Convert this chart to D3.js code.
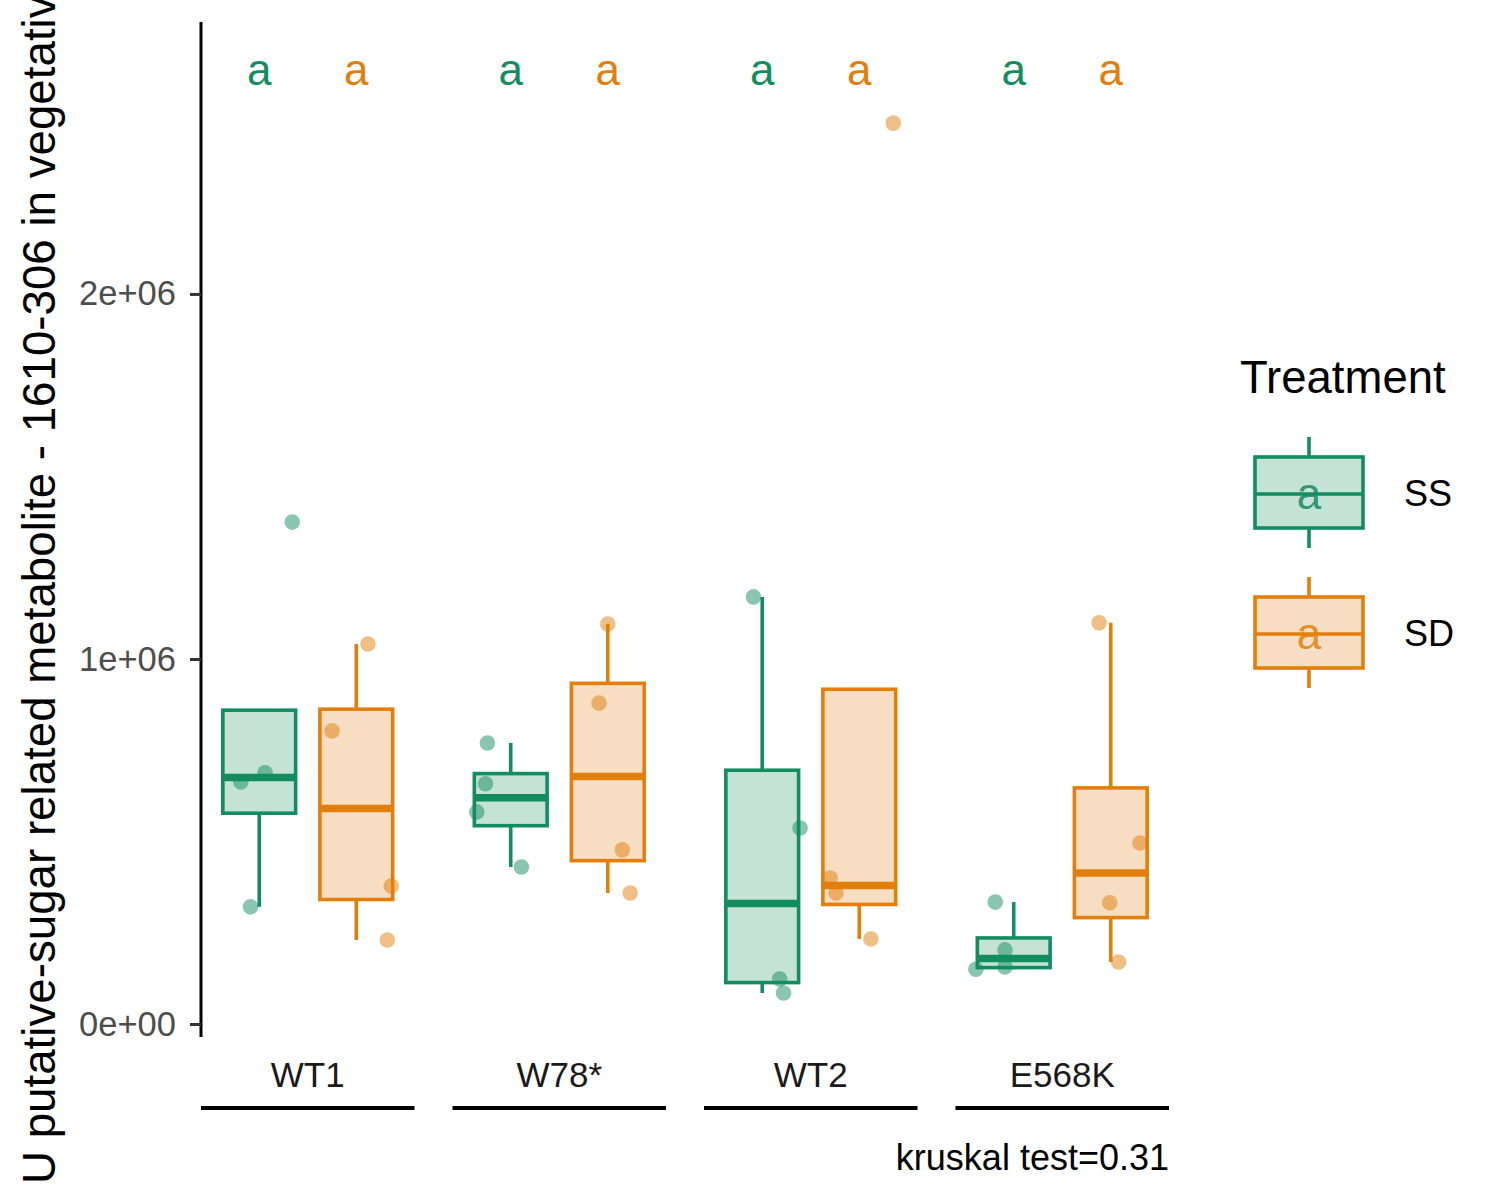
<!DOCTYPE html>
<html>
<head>
<meta charset="utf-8">
<script src="https://cdn.jsdelivr.net/npm/d3@7"></script>
<style>
    body { margin: 0; background: #fff; }
    svg { display: block; }
    text { font-family: "Liberation Sans", Arial, sans-serif; }
</style>
</head>
<body>
<svg id="chart" width="1500" height="1200"></svg>
<script>
// data
const genotypes = ["WT1", "W78*", "WT2", "E568K"]
const treatments = ["SS", "SD"]
const treatmentColors = ["#138C62", "#E27F0B"]
const treatmentFills = ["#C5E2D7", "#F7DDC1"]

// four samples per genotype x treatment
const ssValues = [
    [1375000, 663000, 688000, 321000],
    [770000, 658000, 581000, 430000],
    [1170000, 537000, 123000, 85000],
    [334000, 203000, 150000, 156000]
]
const sdValues = [
    [1041000, 803000, 378000, 230000],
    [1096000, 879000, 477000, 359000],
    [2468000, 400000, 359000, 233000],
    [1099000, 496000, 332000, 170000]
]
// horizontal jitter of each sample (in x units)
const ssJitter = [
    [0.34, -0.19, 0.06, -0.09],
    [-0.24, -0.26, -0.35, 0.11],
    [-0.09, 0.39, 0.18, 0.22],
    [-0.19, -0.09, -0.39, -0.09]
]
const sdJitter = [
    [0.12, -0.25, 0.36, 0.32],
    [0, -0.09, 0.15, 0.23],
    [0.35, -0.30, -0.24, 0.12],
    [-0.12, 0.30, -0.01, 0.08]
]
// compact letter display
const ssLetters = ["a", "a", "a", "a"]
const sdLetters = ["a", "a", "a", "a"]
const letterY = 2620000
const yTicks = [0, 1000000, 2000000]
const kruskalP = 0.31
const yTitle = "U putative-sugar related metabolite - 1610-306 in vegetative tissue"

const panel = {left: 201, right: 1169, top: 22, bottom: 1037}
const svg = d3.select("#chart")

const y = d3.scaleLinear()
    .domain([-35600, 2745000])
    .range([panel.bottom, panel.top])

const xFacet = d3.scaleBand()
    .domain(genotypes)
    .range([panel.left, panel.right])
    .paddingInner(0.151)

const xIn = d3.scaleLinear()
    .domain([0.4, 2.6])
    .range([0, xFacet.bandwidth()])

function boxStats(values) {
    let v = values.slice().sort(d3.ascending)
    let q1 = d3.quantile(v, 0.25)
    let med = d3.quantile(v, 0.5)
    let q3 = d3.quantile(v, 0.75)
    let iqr = q3 - q1
    let inside = v.filter(d => d >= q1 - 1.5 * iqr && d <= q3 + 1.5 * iqr)
    return {
        q1, med, q3,
        lo: Math.min(q1, d3.min(inside)),
        hi: Math.max(q3, d3.max(inside))
    }
}

let groups = []
genotypes.forEach((g, gi) => {
    treatments.forEach((t, ti) => {
        let values = ti == 0 ? ssValues[gi] : sdValues[gi]
        let jitter = ti == 0 ? ssJitter[gi] : sdJitter[gi]
        groups.push({
            genotype: g,
            treatment: t,
            pos: ti + 1,
            color: treatmentColors[ti],
            fill: treatmentFills[ti],
            letter: ti == 0 ? ssLetters[gi] : sdLetters[gi],
            points: values.map((v, i) => ({v, j: jitter[i]})),
            stats: boxStats(values)
        })
    })
})

const cx = d => xFacet(d.genotype) + xIn(d.pos)
const halfBox = (xIn(1.375) - xIn(1))
const lw = 3.6

// y axis (only on first panel)
function sci(v) {
    if (v == 0) return "0e+00"
    let e = Math.floor(Math.log10(v))
    let m = Math.round(v / Math.pow(10, e))
    return m + "e+" + String(e).padStart(2, "0")
}

let gAxis = svg.append("g")
    .attr("transform", `translate(${panel.left},0)`)
    .call(d3.axisLeft(y).tickValues(yTicks).tickFormat(sci)
        .tickSize(11).tickSizeOuter(0).tickPadding(14))
gAxis.select(".domain")
    .attr("d", `M0,${panel.top}V${panel.bottom}`)
    .attr("stroke", "#000")
    .attr("stroke-width", 3)
gAxis.selectAll(".tick line")
    .attr("stroke", "#333")
    .attr("stroke-width", 3)
gAxis.selectAll(".tick text")
    .attr("fill", "#4D4D4D")
    .attr("font-size", 34.5)
    .attr("font-family", "Liberation Sans, Arial, sans-serif")

// boxes
let gBox = svg.selectAll(".group")
    .data(groups)
    .join("g")
    .classed("group", true)

gBox.append("line")
    .attr("x1", cx).attr("x2", cx)
    .attr("y1", d => y(d.stats.q3)).attr("y2", d => y(d.stats.hi))
    .attr("stroke", d => d.color)
    .attr("stroke-width", lw)
gBox.append("line")
    .attr("x1", cx).attr("x2", cx)
    .attr("y1", d => y(d.stats.q1)).attr("y2", d => y(d.stats.lo))
    .attr("stroke", d => d.color)
    .attr("stroke-width", lw)

gBox.append("rect")
    .attr("x", d => cx(d) - halfBox)
    .attr("width", halfBox * 2)
    .attr("y", d => y(d.stats.q3))
    .attr("height", d => y(d.stats.q1) - y(d.stats.q3))
    .attr("fill", d => d.fill)
    .attr("stroke", d => d.color)
    .attr("stroke-width", lw)

gBox.append("line")
    .attr("x1", d => cx(d) - halfBox).attr("x2", d => cx(d) + halfBox)
    .attr("y1", d => y(d.stats.med)).attr("y2", d => y(d.stats.med))
    .attr("stroke", d => d.color)
    .attr("stroke-width", 7.5)

// jittered samples
gBox.selectAll("circle")
    .data(d => d.points.map(p => ({...p, g: d})))
    .join("circle")
    .attr("cx", p => xFacet(p.g.genotype) + xIn(p.g.pos + p.j))
    .attr("cy", p => y(p.v))
    .attr("r", 7.8)
    .attr("fill", p => p.g.color)
    .attr("fill-opacity", 0.5)

// letters
gBox.append("text")
    .attr("x", cx)
    .attr("y", d => y(letterY))
    .attr("dy", "0.4em")
    .attr("text-anchor", "middle")
    .attr("font-size", 44)
    .attr("fill", d => d.color)
    .text(d => d.letter)

// strips at the bottom
let strip = svg.selectAll(".strip")
    .data(genotypes)
    .join("g")
    .classed("strip", true)
strip.append("text")
    .attr("x", d => xFacet(d) + xFacet.bandwidth() / 2)
    .attr("y", 1087)
    .attr("text-anchor", "middle")
    .attr("font-size", 35)
    .attr("fill", "#1a1a1a")
    .text(d => d)
strip.append("line")
    .attr("x1", d => xFacet(d))
    .attr("x2", d => xFacet(d) + xFacet.bandwidth())
    .attr("y1", 1108).attr("y2", 1108)
    .attr("stroke", "#000")
    .attr("stroke-width", 4)

svg.append("text")
    .attr("x", panel.right)
    .attr("y", 1170)
    .attr("text-anchor", "end")
    .attr("font-size", 36)
    .text(`kruskal test=${kruskalP}`)

// y title (runs off the canvas like the original)
svg.append("text")
    .attr("transform", "translate(55,1184) rotate(-90)")
    .attr("text-anchor", "start")
    .attr("font-size", 45.7)
    .text(yTitle)

// legend
let legend = svg.append("g")
legend.append("text")
    .attr("x", 1240)
    .attr("y", 393)
    .attr("font-size", 45.5)
    .text("Treatment")

let key = legend.selectAll(".key")
    .data(treatments)
    .join("g")
    .classed("key", true)
    .attr("transform", (d, i) => `translate(1309,${494 + i * 140})`)
key.append("line")
    .attr("y1", -57).attr("y2", 54)
    .attr("stroke", (d, i) => treatmentColors[i])
    .attr("stroke-width", lw)
key.append("rect")
    .attr("x", -54).attr("y", -37)
    .attr("width", 108).attr("height", 71)
    .attr("fill", (d, i) => treatmentFills[i])
    .attr("stroke", (d, i) => treatmentColors[i])
    .attr("stroke-width", lw)
key.append("line")
    .attr("x1", -54).attr("x2", 54)
    .attr("stroke", (d, i) => treatmentColors[i])
    .attr("stroke-width", lw)
key.append("text")
    .attr("y", 15)
    .attr("text-anchor", "middle")
    .attr("font-size", 44)
    .attr("fill", (d, i) => treatmentColors[i])
    .attr("fill-opacity", 0.85)
    .text("a")
key.append("text")
    .attr("x", 95)
    .attr("y", 12)
    .attr("font-size", 36)
    .text(d => d)
</script>
</body>
</html>
